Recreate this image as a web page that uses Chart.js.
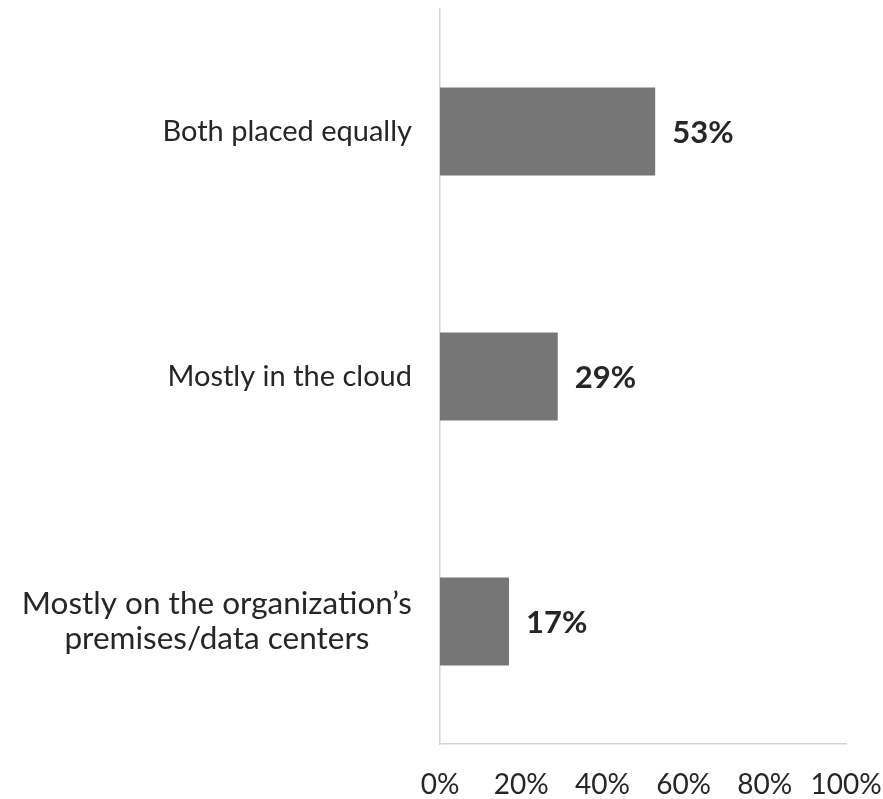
<!DOCTYPE html>
<html>
<head>
<meta charset="utf-8">
<script src="https://cdn.jsdelivr.net/npm/chart.js@4"></script>
<style>
  html, body { margin: 0; padding: 0; background: #fff; }
  #wrap { width: 883px; height: 799px; }
</style>
</head>
<body>
<div id="wrap"><canvas id="myChart" width="883" height="799"></canvas></div>
<script>
// datos del gráfico
const categorias = [
    ['Both placed equally'],
    ['Mostly in the cloud'],
    ['Mostly on the organization\u2019s', 'premises/data centers']
];
const valores = [53, 29, 17];
const ticksX = [0, 20, 40, 60, 80, 100];

const colorBarra = '#767676';
const colorTexto = '#262626';
const colorEje = '#d4d4d4';

// etiquetas de categoría: cada bloque alineado a la derecha, líneas centradas entre sí
const etiquetasCategoria = {
    id: 'etiquetasCategoria',
    afterDraw(chart) {
        const ctx = chart.ctx;
        const escalaY = chart.scales.y;
        const derecha = chart.chartArea.left - 28;
        ctx.save();
        ctx.fillStyle = colorTexto;
        ctx.textBaseline = 'middle';
        ctx.textAlign = 'center';
        categorias.forEach((lineas, i) => {
            const tam = lineas.length > 1 ? 31.5 : 29;
            ctx.font = tam + 'px Lato';
            const ancho = Math.max(...lineas.map(l => ctx.measureText(l).width));
            const alto = 35;
            const yc = escalaY.getPixelForValue(i);
            const y0 = yc - (lineas.length - 1) * alto / 2;
            lineas.forEach((l, j) => {
                ctx.fillText(l, derecha - ancho / 2, y0 + j * alto);
            });
        });
        ctx.restore();
    }
};

// etiquetas de valor al final de cada barra
const etiquetasValor = {
    id: 'etiquetasValor',
    afterDatasetsDraw(chart) {
        const ctx = chart.ctx;
        const meta = chart.getDatasetMeta(0);
        ctx.save();
        ctx.fillStyle = colorTexto;
        ctx.font = 'bold 31px Lato';
        ctx.textBaseline = 'middle';
        ctx.textAlign = 'left';
        meta.data.forEach((barra, i) => {
            ctx.fillText(valores[i] + '%', barra.x + 17, barra.y + 1);
        });
        ctx.restore();
    }
};

function initGrafico() {
    const ctx = document.getElementById('myChart').getContext('2d');
    new Chart(ctx, {
        type: 'bar',
        data: {
            labels: categorias.map(c => c.join(' ')),
            datasets: [{
                data: valores,
                backgroundColor: colorBarra,
                borderWidth: 0,
                barPercentage: 0.36,
                categoryPercentage: 1
            }]
        },
        options: {
            indexAxis: 'y',
            responsive: false,
            animation: false,
            layout: { padding: { top: 9, right: 37, left: 0, bottom: 0 } },
            plugins: {
                legend: { display: false },
                tooltip: { enabled: false }
            },
            scales: {
                x: {
                    min: 0,
                    max: 100,
                    afterBuildTicks: scale => { scale.ticks = ticksX.map(v => ({ value: v })); },
                    afterFit: scale => {
                        scale.height = 55;
                        scale.paddingLeft = 0;
                        scale.paddingRight = 0;
                    },
                    grid: { display: false, drawTicks: false },
                    border: { display: true, color: colorEje, width: 1.5 },
                    ticks: {
                        color: colorTexto,
                        font: { family: 'Lato', size: 28 },
                        padding: 24,
                        maxRotation: 0,
                        callback: v => v + '%'
                    }
                },
                y: {
                    afterFit: scale => { scale.width = 440; },
                    grid: { display: false, drawTicks: false },
                    border: { display: true, color: colorEje, width: 1.5 },
                    ticks: { display: false }
                }
            }
        },
        plugins: [etiquetasCategoria, etiquetasValor]
    });
}

document.addEventListener('DOMContentLoaded', initGrafico);
</script>
</body>
</html>
